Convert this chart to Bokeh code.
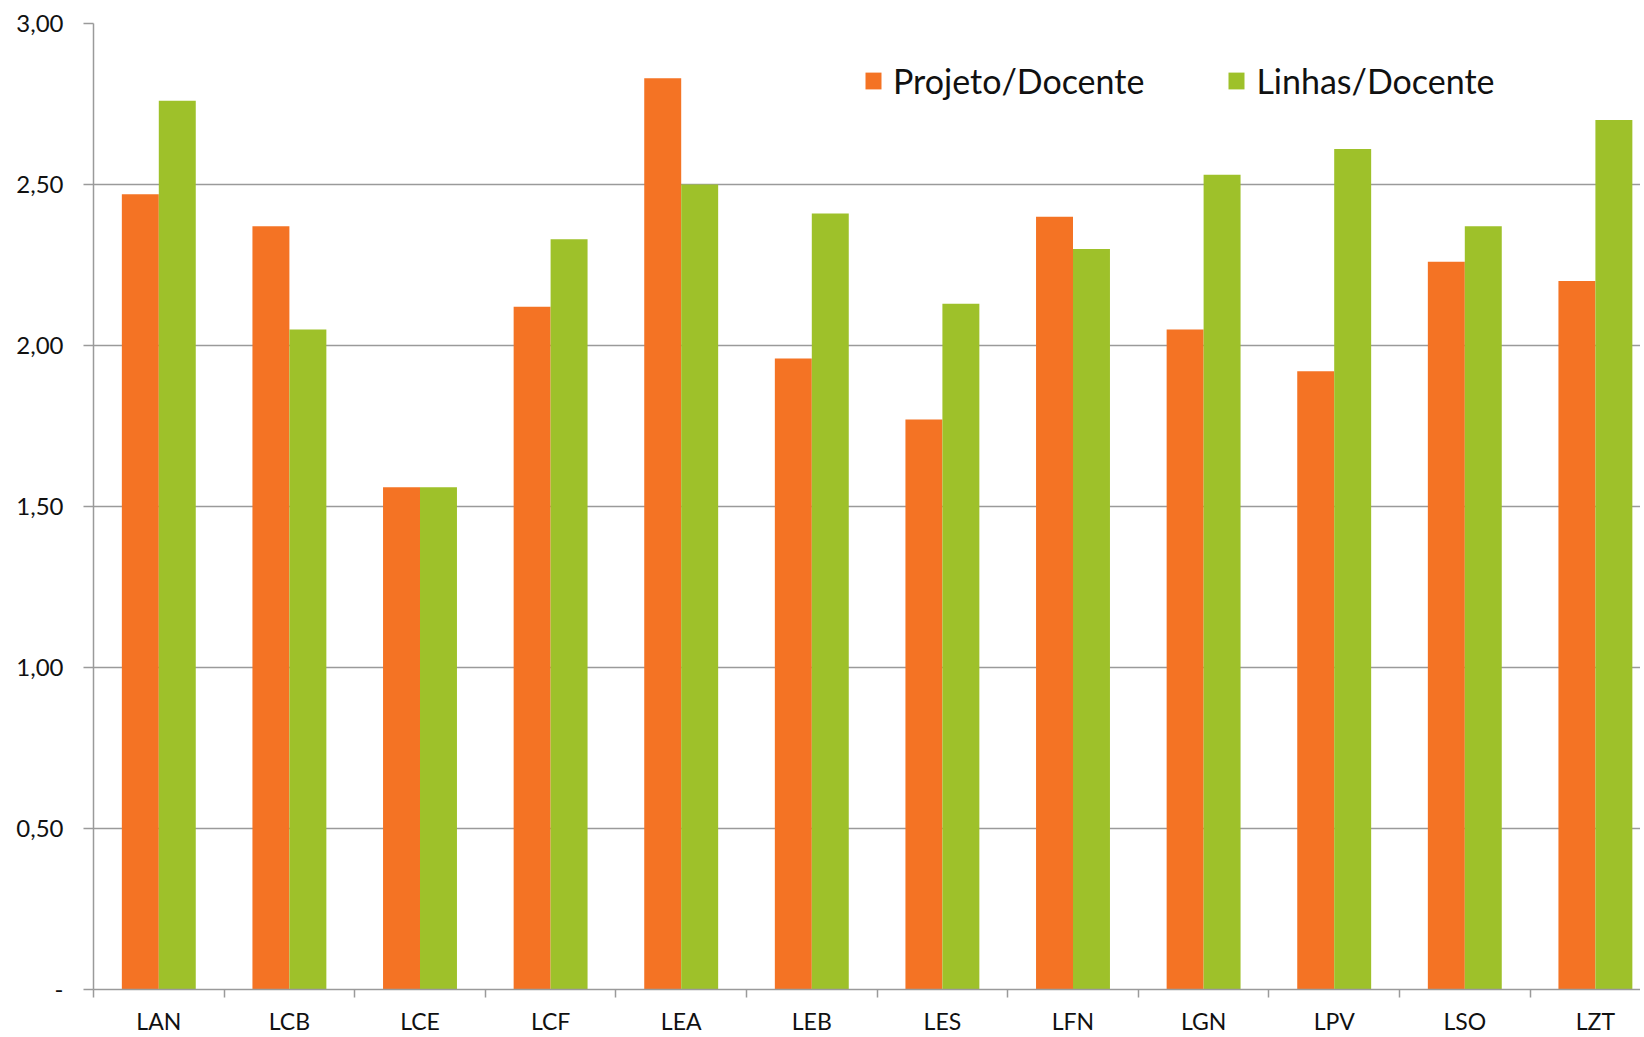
from bokeh.plotting import figure
from bokeh.models import ColumnDataSource, Range1d, FixedTicker
from bokeh.transform import dodge
from bokeh.embed import file_html
from bokeh.resources import INLINE

categories = ["LAN", "LCB", "LCE", "LCF", "LEA", "LEB", "LES", "LFN", "LGN", "LPV", "LSO", "LZT"]
projeto_docente = [2.47, 2.37, 1.56, 2.12, 2.83, 1.96, 1.77, 2.40, 2.05, 1.92, 2.26, 2.20]
linhas_docente = [2.76, 2.05, 1.56, 2.33, 2.50, 2.41, 2.13, 2.30, 2.53, 2.61, 2.37, 2.70]
y_ticks = [0, 0.5, 1.0, 1.5, 2.0, 2.5, 3.0]
y_tick_labels = ["-", "0,50", "1,00", "1,50", "2,00", "2,50", "3,00"]

ORANGE = "#F47324"
GREEN = "#9EC12A"
GRID = "#9A9A9A"
FONT = "Lato"

centers = [i + 0.5 for i in range(len(categories))]
source = ColumnDataSource(dict(x=centers, cat=categories, proj=projeto_docente, lin=linhas_docente))

p = figure(width=1640, height=1037, output_backend="svg", toolbar_location=None,
           x_range=Range1d(0, (1640 - 93) / 130.6), y_range=Range1d(0, 3.0),
           min_border_left=93, min_border_right=0, min_border_top=23, min_border_bottom=48)
p.outline_line_color = None
p.background_fill_color = "white"

bw = 0.283
p.vbar(x=dodge("x", -bw / 2, range=p.x_range), top="proj", width=bw, source=source,
       fill_color=ORANGE, line_color=None, legend_label="Projeto/Docente")
p.vbar(x=dodge("x", bw / 2, range=p.x_range), top="lin", width=bw, source=source,
       fill_color=GREEN, line_color=None, legend_label="Linhas/Docente")

# x axis: labels at centers, ticks at category boundaries
p.xaxis.ticker = FixedTicker(ticks=centers, minor_ticks=list(range(len(categories) + 1)))
p.xaxis.major_label_overrides = {c: lab for c, lab in zip(centers, categories)}
p.xaxis.major_tick_line_color = None
p.xaxis.major_tick_out = 0
p.xaxis.major_tick_in = 0
p.xaxis.minor_tick_out = 8
p.xaxis.minor_tick_in = 0
p.xaxis.minor_tick_line_color = GRID
p.xaxis.minor_tick_line_width = 1.5
p.xaxis.axis_line_color = GRID
p.xaxis.axis_line_width = 1.5
p.xaxis.major_label_standoff = 9
p.xaxis.major_label_text_font = FONT
p.xaxis.major_label_text_font_size = "23px"
p.xaxis.major_label_text_color = "#111111"
p.xgrid.grid_line_color = None

# y axis
p.yaxis.ticker = FixedTicker(ticks=y_ticks, minor_ticks=[])
p.yaxis.major_label_overrides = {t: lab for t, lab in zip(y_ticks, y_tick_labels)}
p.yaxis.major_tick_out = 10
p.yaxis.major_tick_in = 0
p.yaxis.major_tick_line_color = GRID
p.yaxis.major_tick_line_width = 1.5
p.yaxis.axis_line_color = GRID
p.yaxis.axis_line_width = 1.5
p.yaxis.major_label_standoff = 20
p.yaxis.major_label_text_font = FONT
p.yaxis.major_label_text_font_size = "24px"
p.yaxis.major_label_text_color = "#111111"
p.ygrid.grid_line_color = GRID
p.ygrid.grid_line_width = 1.5

# legend
lg = p.legend[0]
lg.orientation = "horizontal"
lg.location = (770, 888)
lg.padding = 0
lg.margin = 0
lg.spacing = 82
lg.border_line_color = None
lg.background_fill_alpha = 0
lg.glyph_width = 20
lg.glyph_height = 21
lg.label_height = 21
lg.label_standoff = 10
lg.label_text_font = FONT
lg.label_text_font_size = "34px"
lg.label_text_color = "#111111"

open("out.html", "w").write(file_html(p, INLINE))
